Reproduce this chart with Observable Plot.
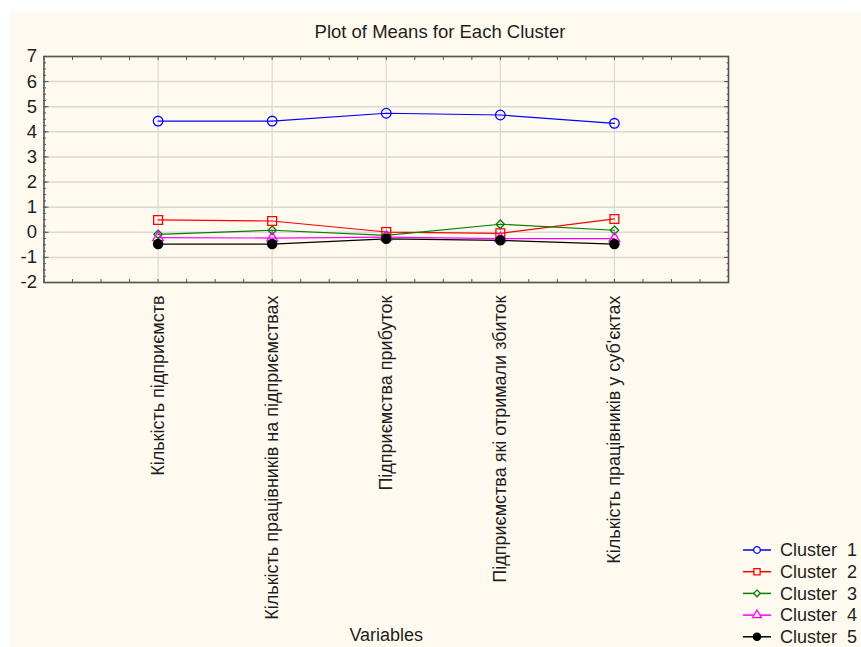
<!DOCTYPE html>
<html>
<head>
<meta charset="utf-8">
<script src="https://cdn.jsdelivr.net/npm/d3@7"></script>
<script src="https://cdn.jsdelivr.net/npm/@observablehq/plot@0.6"></script>
<style>
  html, body { margin: 0; padding: 0; background: #ffffff; }
  #wrap { position: relative; width: 861px; height: 647px; overflow: hidden; font-family: "Liberation Sans", Arial, sans-serif; color: #1e1e1e; }
  #bg { position: absolute; left: 10px; top: 12px; width: 851px; height: 635px; background: #fffaef; }
  #title { position: absolute; left: 0; top: 21px; width: 880px; text-align: center; font-size: 18.5px; line-height: 22px; }
  #chart { position: absolute; left: 0; top: 0; }
  #legend { position: absolute; left: 735px; top: 538px; }
</style>
</head>
<body>
<div id="wrap">
  <div id="bg"></div>
  <div id="title"></div>
  <div id="chart"></div>
  <div id="legend"></div>
</div>
<script>
const chartTitle = "Plot of Means for Each Cluster";
const xTitle = "Variables";
const categories = [
  "Кількість підприємств",
  "Кількість працівників на підприємствах",
  "Підприємства прибуток",
  "Підприємства які отримали збиток",
  "Кількість працівників у суб'єктах"
];
const seriesNames = ["Cluster  1", "Cluster  2", "Cluster  3", "Cluster  4", "Cluster  5"];
const cluster1 = [4.43, 4.43, 4.74, 4.67, 4.34];
const cluster2 = [0.49, 0.45, 0.01, -0.04, 0.53];
const cluster3 = [-0.08, 0.08, -0.12, 0.32, 0.08];
const cluster4 = [-0.21, -0.23, -0.19, -0.25, -0.25];
const cluster5 = [-0.47, -0.47, -0.26, -0.32, -0.47];
const yTicks = [-2, -1, 0, 1, 2, 3, 4, 5, 6, 7];

const seriesValues = [cluster1, cluster2, cluster3, cluster4, cluster5];
const seriesColors = ["#0000ff", "#ff0000", "#008000", "#ff00ff", "#000000"];
const seriesSymbols = ["circle", "square", "diamond2", "triangle", "circle"];
const seriesFills = ["none", "none", "none", "none", "#000000"];
const seriesR = [4.8, 5, 3.8, 4, 4.6];

const data = [];
seriesNames.forEach((s, si) => {
  seriesValues[si].forEach((v, i) => data.push({series: s, si, xi: i + 1, value: v}));
});

document.getElementById("title").textContent = chartTitle;

const fontFamily = "'Liberation Sans', Arial, sans-serif";
const xMinor = d3.range(0, 6.001, 0.25);
const yMinor = d3.range(-2, 7.001, 0.25);

const marks = [
  Plot.gridY(yTicks, {stroke: "#d8d8d8", strokeOpacity: 1, strokeWidth: 1.5}),
  Plot.gridX([1, 2, 3, 4, 5], {stroke: "#d8d8d8", strokeOpacity: 1, strokeWidth: 1.2}),
  Plot.axisY(yTicks, {anchor: "left", label: null, tickSize: 0, tickPadding: 7, fontSize: 18.5, tickFormat: d => String(d)}),
  Plot.axisY(yMinor, {anchor: "left", label: null, tickSize: -2.5, text: null, stroke: "#555"}),
  Plot.axisY(yTicks, {anchor: "left", label: null, tickSize: -5, text: null, stroke: "#555"}),
  Plot.axisY(yMinor, {anchor: "right", label: null, tickSize: -2.5, text: null, stroke: "#555"}),
  Plot.axisY(yTicks, {anchor: "right", label: null, tickSize: -5, text: null, stroke: "#555"}),
  Plot.axisX(xMinor, {anchor: "top", label: null, tickSize: -3, text: null, stroke: "#555"}),
  Plot.axisX(xMinor, {anchor: "bottom", label: null, tickSize: -3, text: null, stroke: "#555"}),
  Plot.axisX([1, 2, 3, 4, 5], {anchor: "bottom", label: null, tickSize: 0, tickPadding: 13, tickRotate: -90, fontSize: 18, tickFormat: d => categories[d - 1]}),
  Plot.frame({stroke: "#555", strokeWidth: 1.6}),
];
seriesNames.forEach((s, si) => {
  const d = data.filter(r => r.si === si);
  marks.push(Plot.line(d, {x: "xi", y: "value", stroke: seriesColors[si], strokeWidth: 1.2}));
});
seriesNames.forEach((s, si) => {
  const d = data.filter(r => r.si === si);
  marks.push(Plot.dot(d, {x: "xi", y: "value", symbol: seriesSymbols[si], r: seriesR[si], stroke: seriesColors[si], fill: seriesFills[si], strokeWidth: 1.3}));
});
marks.push(Plot.text([xTitle], {frameAnchor: "bottom", dy: 358, fontSize: 18, lineAnchor: "bottom", fill: "#1e1e1e"}));

const chart = Plot.plot({
  width: 861,
  height: 647,
  marginLeft: 43.5,
  marginRight: 133,
  marginTop: 56,
  marginBottom: 365,
  style: {background: "transparent", fontFamily, color: "#1e1e1e", overflow: "visible"},
  x: {type: "linear", domain: [0, 6], axis: null, label: null},
  y: {type: "linear", domain: [-2, 7], axis: null, label: null},
  marks
});
document.getElementById("chart").appendChild(chart);

// legend
const lg = d3.select("#legend").append("svg").attr("width", 126).attr("height", 109)
  .style("font-family", fontFamily).style("overflow", "visible");
const sym = {circle: d3.symbolCircle, square: d3.symbolSquare, diamond2: d3.symbolDiamond2, triangle: d3.symbolTriangle};
const legendR = [3.3, 3.5, 3, 3.3, 3.6];
seriesNames.forEach((s, si) => {
  const g = lg.append("g").attr("transform", `translate(0, ${12 + si * 21.7})`);
  g.append("line").attr("x1", 8).attr("x2", 36).attr("y1", 0).attr("y2", 0)
    .attr("stroke", seriesColors[si]).attr("stroke-width", 1.5);
  g.append("path").attr("transform", "translate(22,0)")
    .attr("d", d3.symbol(sym[seriesSymbols[si]], Math.PI * legendR[si] * legendR[si])())
    .attr("stroke", seriesColors[si]).attr("stroke-width", 1.3)
    .attr("fill", seriesFills[si] === "none" ? "#fffaef" : seriesFills[si]);
  g.append("text").attr("x", 45).attr("y", 0).attr("dy", "0.35em")
    .attr("font-size", 18).attr("fill", "#1e1e1e").attr("xml:space", "preserve")
    .style("white-space", "pre").text(s);
});
</script>
</body>
</html>
